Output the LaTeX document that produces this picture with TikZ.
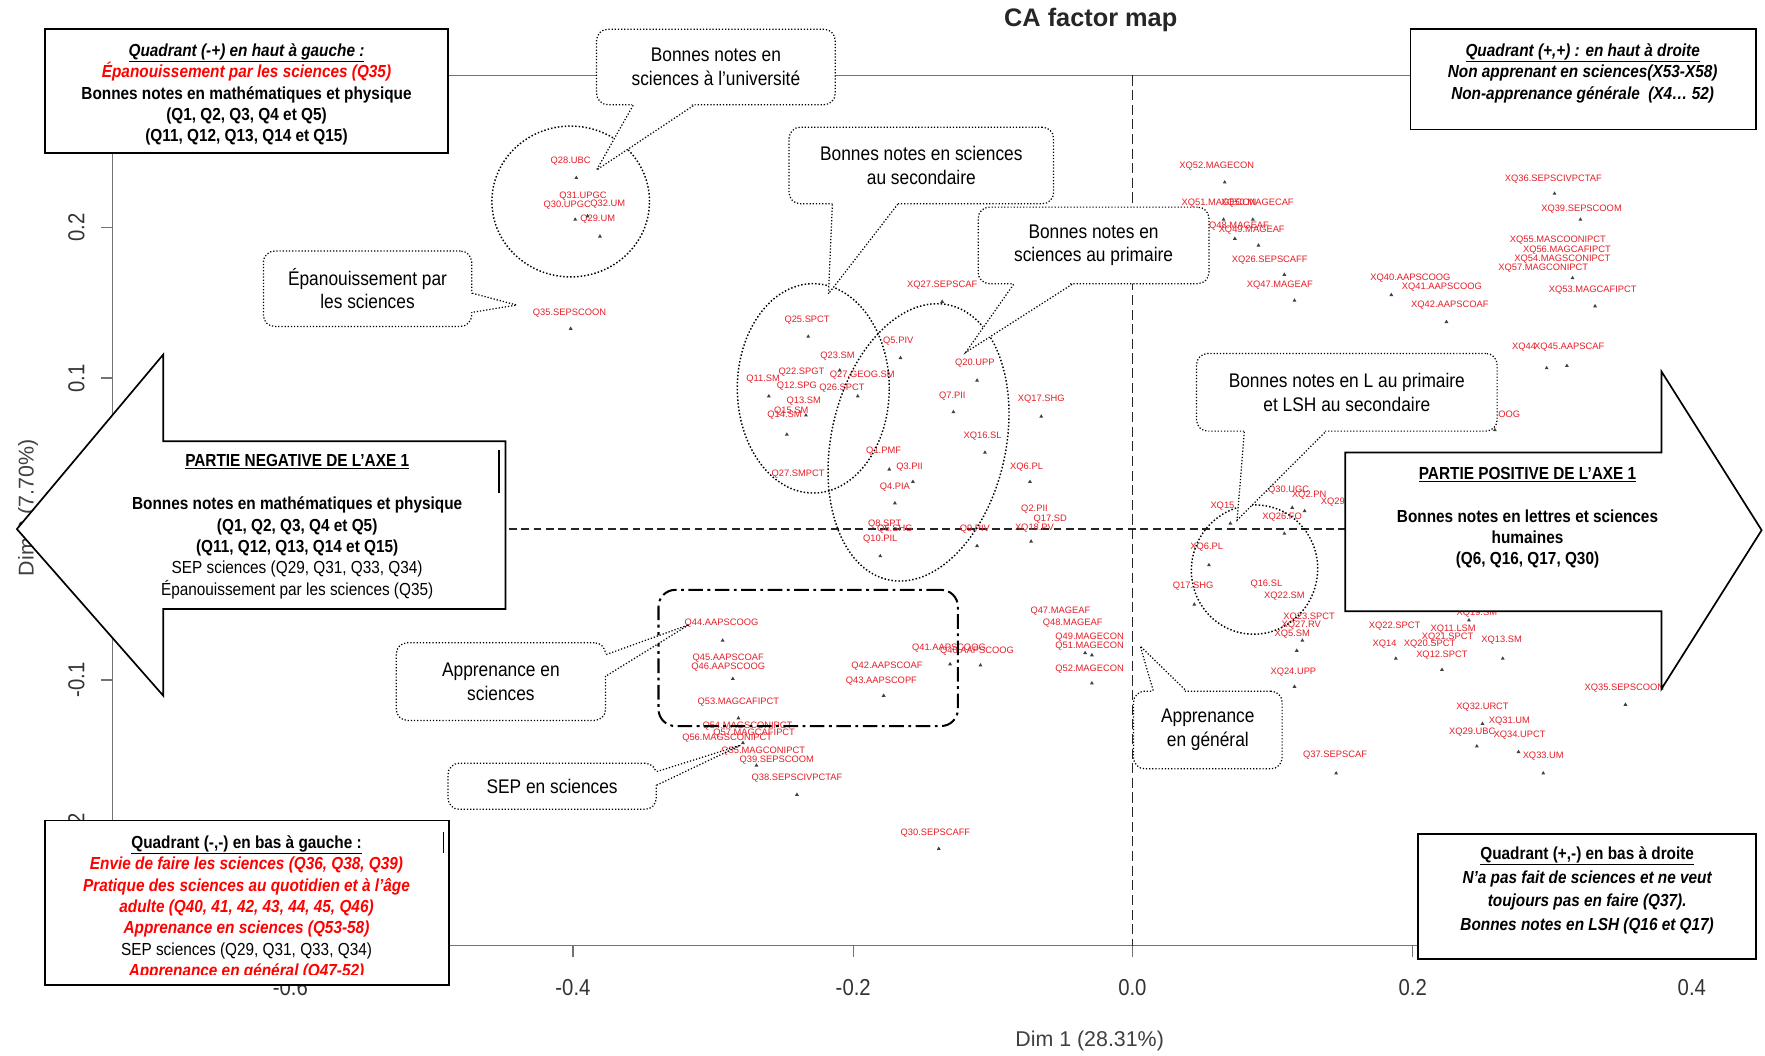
\documentclass[tikz,border=0pt]{standalone}
\usepackage{fontspec}
\setmainfont{Liberation Sans}
\newfontfamily\narrowsans[FakeStretch=0.88]{Liberation Sans}
\usetikzlibrary{calc,shapes.geometric}
\definecolor{ptred}{RGB}{230,30,40}
\definecolor{axgray}{RGB}{115,115,115}
\definecolor{txtred}{RGB}{255,0,0}
\begin{document}
\begin{tikzpicture}[x=1pt,y=-1pt,
 qbox/.style={draw=black, line width=1.5pt, fill=white, inner sep=0pt},
 boxtxt/.style={font=\narrowsans\bfseries\fontsize{15.5}{19}\selectfont, align=center, inner sep=0pt},
 callbox/.style={draw=black, line width=1.1pt, dash pattern=on 1.1pt off 1.7pt, rounded corners=10pt, fill=white, font=\narrowsans\fontsize{17.5}{21}\selectfont, align=center, inner sep=0pt},
 dotln/.style={line width=1.1pt, dash pattern=on 1.1pt off 1.7pt},
 ell/.style={draw=black, ellipse, line width=1.3pt, dash pattern=on 1.3pt off 1.8pt, inner sep=0pt},
 ptlab/.style={font=\fontsize{8.3}{9}\selectfont, text=ptred, inner sep=0pt},
 ptmark/.style={regular polygon, regular polygon sides=3, fill=black!75, minimum size=4pt, inner sep=0pt},
 plotframe/.style={draw=axgray, line width=1.3pt},
 ticklab/.style={font=\narrowsans\fontsize{20.5}{22}\selectfont, text=black!80, inner sep=0pt},
 bigarrow/.style={draw=black, line width=1.5pt, fill=white, line join=miter},
]
\useasboundingbox (0,0) rectangle (1568,938);
\fill[white] (0,0) rectangle (1568,938);

% title
\node[font=\bfseries\fontsize{22.5}{25}\selectfont, text=black!85] (title) at (969,18) {CA factor map};

% plot frame and axes
\draw[plotframe] (100,67) -- (1560,67);
\draw[plotframe] (100,67) -- (100,840) -- (1560,840);
\foreach \x/\t [count=\i] in {258/-0.6,509/-0.4,758/-0.2,1006/0.0,1255/0.2,1503/0.4}{
  \draw[plotframe] (\x,840) -- (\x,850);
  \node[ticklab] (xt\i) at (\x,877) {\t};
}
\foreach \y/\t [count=\i] in {202/0.2,336/0.1,470/0.0,604/-0.1,738/-0.2}{
  \draw[plotframe] (90,\y) -- (100,\y);
  \node[ticklab, rotate=90] (yt\i) at (68,\y) {\t};
}
\node[font=\fontsize{19}{21}\selectfont, text=black!75] (xlab) at (968,925) {Dim 1 (28.31\%)};
\node[font=\fontsize{19}{21}\selectfont, text=black!75, rotate=90] (ylab) at (25,451) {Dim 2 (7.70\%)};

% dashed zero lines
\draw[black!85, line width=1.3pt, dash pattern=on 7pt off 4pt] (100,470) -- (1560,470);
\draw[black!85, line width=0.9pt, dash pattern=on 9pt off 4pt] (1006,67) -- (1006,840);

% scatter labels
\foreach \x/\y/\t [count=\i] in {507/143/Q28.UBC, 518/174/Q31.UPGC, 504/182/Q30.UPGC, 540/181/Q32.UM, 531/195/Q29.UM,
 506/278/Q35.SEPSCOON, 717/284/Q25.SPCT, 744/316/Q23.SM, 712/331/Q22.SPGT, 766/333/Q27.GEOG.SM, 678/337/Q11.SM,
 708/343/Q12.SPG, 748/345/Q26.SPCT, 714/356/Q13.SM, 697/369/Q14.SM, 703/365/Q15.SM, 709/421/Q27.SMPCT,
 837/253/XQ27.SEPSCAF, 798/303/Q5.PIV, 866/323/Q20.UPP, 846/352/Q7.PII, 925/355/XQ17.SHG, 873/387/XQ16.SL,
 785/401/Q1.PMF, 808/415/Q3.PII, 795/433/Q4.PIA, 912/415/XQ6.PL, 919/452/Q2.PII, 933/461/Q17.SD, 786/466/Q8.SPT,
 795/470/Q6.SHG, 782/479/Q10.PIL, 866/470/Q9.PIV, 919/469/XQ18.PV,
 1086/450/XQ15, 1142/435/XQ30.UGC, 1163/440/XQ2.PN, 1184/446/XQ29, 1139/459/XQ26.FO, 1072/486/XQ6.PL,
 1060/521/Q17.SHG, 1125/519/Q16.SL, 1141/530/XQ22.SM, 1163/548/XQ23.SPCT, 1156/555/XQ27.RV, 1148/563/XQ5.SM,
 1149/597/XQ24.UPP, 1239/556/XQ22.SPCT, 1291/559/XQ11.LSM, 1286/566/XQ21.SPCT, 1230/572/XQ14, 1270/572/XQ20.SPCT,
 1281/582/XQ12.SPCT, 1334/569/XQ13.SM, 1312/545/XQ19.SM, 1443/611/XQ35.SEPSCOON, 1317/628/XQ32.URCT,
 1341/641/XQ31.UM, 1308/650/XQ29.UBC, 1350/653/XQ34.UPCT, 1371/672/XQ33.UM, 1186/671/Q37.SEPSCAF,
 1081/148/XQ52.MAGECON, 1083/180/XQ51.MAGECON, 1117/180/XQ50.MAGECAF, 1098/201/XQ48.MAGEAF, 1112/204/XQ49.MAGEAF,
 1128/231/XQ26.SEPSCAFF, 1137/253/XQ47.MAGEAF, 1253/247/XQ40.AAPSCOOG, 1281/255/XQ41.AAPSCOOG, 1288/271/XQ42.AAPSCOAF,
 1380/159/XQ36.SEPSCIVPCTAF, 1405/186/XQ39.SEPSCOOM, 1384/213/XQ55.MASCOONIPCT, 1392/222/XQ56.MAGCAFIPCT,
 1388/230/XQ54.MAGSCONIPCT, 1371/238/XQ57.MAGCONIPCT, 1415/258/XQ53.MAGCAFIPCT, 1354/308/XQ44, 1394/308/XQ45.AAPSCAF,
 1315/369/XQ43.AAPSCOOG, 641/554/Q44.AAPSCOOG, 647/585/Q45.AAPSCOAF, 647/593/Q46.AAPSCOOG, 656/624/Q53.MAGCAFIPCT,
 664/645/Q54.MAGSCONIPCT, 670/651/Q57.MAGCAFIPCT, 646/656/Q56.MAGSCONIPCT, 678/667/Q55.MAGCONIPCT, 690/675/Q39.SEPSCOOM,
 708/691/Q38.SEPSCIVPCTAF, 788/592/Q42.AAPSCOAF, 783/605/Q43.AAPSCOPF, 843/576/Q41.AAPSCOOG, 868/578/Q40.AAPSCOOG,
 831/740/Q30.SEPSCAFF, 942/543/Q47.MAGEAF, 953/554/Q48.MAGEAF, 968/566/Q49.MAGECON, 968/574/Q51.MAGECON, 968/594/Q52.MAGECON}{
  \node[ptlab] (lab\i) at (\x,\y) {\t};
}
% scatter markers
\foreach \x/\y [count=\i] in {512/158, 511/195, 522/192, 533/210, 507/292,
 718/299, 683/352, 762/352, 746/329, 716/369, 699/386,
 837/268, 800/318, 868/338, 847/366, 925/370, 875/402, 790/417, 811/428, 795/447, 915/428, 916/481, 782/494, 868/485,
 1093/465, 1148/451, 1159/454, 1141/474, 1074/502, 1061/537, 1157/569, 1152/578, 1150/610, 1305/551, 1335/585,
 1240/585, 1281/595, 1444/626, 1317/643, 1312/663, 1349/668, 1371/687, 1187/687,
 1088/162, 1087/195, 1113/195, 1118/218, 1097/212, 1141/244, 1150/267, 1236/262, 1285/286, 1381/172, 1404/195,
 1397/247, 1417/272, 1374/327, 1392/325, 1328/382,
 642/569, 651/603, 656/638, 660/660, 672/680, 708/706, 844/590, 785/618, 871/591, 834/754, 964/580, 970/582, 970/607}{
  \node[ptmark] (pt\i) at (\x,\y) {};
}

% dotted ellipses
\node[ell, minimum width=140pt, minimum height=134pt] (eUniv) at (507,179) {};
\node[ell, minimum width=135pt, minimum height=186pt] (eSec) at (722.5,345) {};
\node[ell, minimum width=155pt, minimum height=250pt, rotate=-12.5] (ePrim) at (816,393) {};
\node[ell, minimum width=112pt, minimum height=115pt, rotate=-15] (eLit) at (1114.5,506) {};

% dash-dot group
\node[draw=black, line width=1.8pt, rounded corners=15pt, dash pattern=on 13pt off 4pt on 2.5pt off 4pt,
      minimum width=266pt, minimum height=121pt, inner sep=0pt] (grpApp) at (718,584.5) {};

% callouts
\node[callbox, minimum width=212pt, minimum height=67pt] (cUniv) at (636,59.5) {Bonnes notes en\\sciences à l’université};
\coordinate (tUniv) at (530,151);
\fill[white] ($(cUniv.south west)+(33,-2)$) -- (tUniv) -- ($(cUniv.south west)+(87,-2)$) -- cycle;
\draw[dotln] ($(cUniv.south west)+(33,0)$) -- (tUniv) -- ($(cUniv.south west)+(87,0)$);

\node[callbox, minimum width=185pt, minimum height=67pt] (cEpan) at (326.5,256.5) {Épanouissement par\\les sciences};
\coordinate (tEpan) at (459,271);
\fill[white] ($(cEpan.north east)+(-2,38)$) -- (tEpan) -- ($(cEpan.north east)+(-2,55)$) -- cycle;
\draw[dotln] ($(cEpan.north east)+(0,38)$) -- (tEpan) -- ($(cEpan.north east)+(0,55)$);

\node[callbox, minimum width=235pt, minimum height=68pt] (cSec) at (818.5,147) {Bonnes notes en sciences\\au secondaire};
\coordinate (tSec) at (736,261);
\fill[white] ($(cSec.south west)+(39,-2)$) -- (tSec) -- ($(cSec.south west)+(97,-2)$) -- cycle;
\draw[dotln] ($(cSec.south west)+(39,0)$) -- (tSec) -- ($(cSec.south west)+(97,0)$);

\node[callbox, minimum width=205pt, minimum height=68pt] (cPrim) at (971.5,218) {Bonnes notes en\\sciences au primaire};
\coordinate (tPrim) at (858,313);
\fill[white] ($(cPrim.south west)+(32,-2)$) -- (tPrim) -- ($(cPrim.south west)+(84,-2)$) -- cycle;
\draw[dotln] ($(cPrim.south west)+(32,0)$) -- (tPrim) -- ($(cPrim.south west)+(84,0)$);

\node[callbox, minimum width=267pt, minimum height=69pt] (cLit) at (1196.5,348.5) {Bonnes notes en L au primaire\\et LSH au secondaire};
\coordinate (tLit) at (1099,462);
\fill[white] ($(cLit.south west)+(43,-2)$) -- (tLit) -- ($(cLit.south west)+(115,-2)$) -- cycle;
\draw[dotln] ($(cLit.south west)+(43,0)$) -- (tLit) -- ($(cLit.south west)+(115,0)$);

\node[callbox, minimum width=186pt, minimum height=69pt] (cAppSci) at (445,605.5) {Apprenance en\\sciences};
\coordinate (tAppSci) at (612,555);
\fill[white] ($(cAppSci.north east)+(-2,11)$) -- (tAppSci) -- ($(cAppSci.north east)+(-2,30)$) -- cycle;
\draw[dotln] ($(cAppSci.north east)+(0,11)$) -- (tAppSci) -- ($(cAppSci.north east)+(0,30)$);

\node[callbox, minimum width=185pt, minimum height=41pt] (cSEP) at (490.5,698.5) {SEP en sciences};
\coordinate (tSEP) at (658,662);
\fill[white] ($(cSEP.north east)+(-2,8)$) -- (tSEP) -- ($(cSEP.north east)+(-2,20)$) -- cycle;
\draw[dotln] ($(cSEP.north east)+(0,8)$) -- (tSEP) -- ($(cSEP.north east)+(0,20)$);

\node[callbox, minimum width=132pt, minimum height=69pt] (cAppGen) at (1073,648.5) {Apprenance\\en général};
\coordinate (tAppGen) at (1013,574);
\fill[white] ($(cAppGen.north west)+(18,2)$) -- (tAppGen) -- ($(cAppGen.north west)+(47,2)$) -- cycle;
\draw[dotln] ($(cAppGen.north west)+(18,0)$) -- (tAppGen) -- ($(cAppGen.north west)+(47,0)$);

% big arrows
\draw[bigarrow] (15,470) -- (145,315) -- (145,392) -- (449,392) -- (449,541) -- (145,541) -- (145,618) -- cycle;
\node[boxtxt] (negtxt) at (264,468) {\underline{PARTIE NEGATIVE DE L’AXE 1}\\[19pt]
 Bonnes notes en mathématiques et physique\\(Q1, Q2, Q3, Q4 et Q5)\\(Q11, Q12, Q13, Q14 et Q15)\\
 {\mdseries SEP sciences (Q29, Q31, Q33, Q34)}\\{\mdseries Épanouissement par les sciences (Q35)}};
\draw[line width=1.6pt] (443,400) -- (443,438);

\draw[bigarrow] (1565,471) -- (1476,330) -- (1476,402) -- (1195,402) -- (1195,543) -- (1476,543) -- (1476,612) -- cycle;
\node[boxtxt] (postxt) at (1357,460) {\underline{PARTIE POSITIVE DE L’AXE 1}\\[19pt]
 Bonnes notes en lettres et sciences\\humaines\\(Q6, Q16, Q17, Q30)};

% quadrant boxes
\node[qbox, minimum width=358pt, minimum height=110pt] (qTL) at (219,81) {};
\node[boxtxt] (qTLt) at (219,84) {{\itshape\underline{Quadrant (-+) en haut à gauche :}}\\
 {\color{txtred}\itshape Épanouissement par les sciences (Q35)}\\
 Bonnes notes en mathématiques et physique\\(Q1, Q2, Q3, Q4 et Q5)\\(Q11, Q12, Q13, Q14 et Q15)};

\node[qbox, minimum width=307pt, minimum height=89pt] (qTR) at (1406.5,70.5) {};
\node[boxtxt, font=\narrowsans\bfseries\itshape\fontsize{15.5}{19}\selectfont] (qTRt) at (1406,65) {\underline{Quadrant (+,+) : en haut à droite}\\
 Non apprenant en sciences(X53-X58)\\Non-apprenance générale~~(X4… 52)};

\node[qbox, minimum width=359pt, minimum height=146pt] (qBL) at (219.5,802) {};
\begin{scope}
 \clip (45,735) rectangle (395,866);
 \node[boxtxt] (qBLt) at (219,806.5) {\underline{Quadrant (-,-) en bas à gauche :}\\
 {\color{txtred}\itshape Envie de faire les sciences (Q36, Q38, Q39)}\\
 {\color{txtred}\itshape Pratique des sciences au quotidien et à l’âge}\\
 {\color{txtred}\itshape adulte (Q40, 41, 42, 43, 44, 45, Q46)}\\
 {\color{txtred}\itshape Apprenance en sciences (Q53-58)}\\
 {\mdseries SEP sciences (Q29, Q31, Q33, Q34)}\\
 {\color{txtred}\itshape Apprenance en général (Q47-52)}};
\end{scope}
\draw[line width=1.6pt] (394,739) -- (394,758);

\node[qbox, minimum width=300pt, minimum height=111pt] (qBR) at (1410,796.5) {};
\node[boxtxt, font=\narrowsans\bfseries\fontsize{15.5}{21}\selectfont] (qBRt) at (1410,791) {\underline{Quadrant (+,-) en bas à droite}\\
 {\itshape N’a pas fait de sciences et ne veut}\\{\itshape toujours pas en faire (Q37).}\\{\itshape Bonnes notes en LSH (Q16 et Q17)}};
\end{tikzpicture}
\end{document}
